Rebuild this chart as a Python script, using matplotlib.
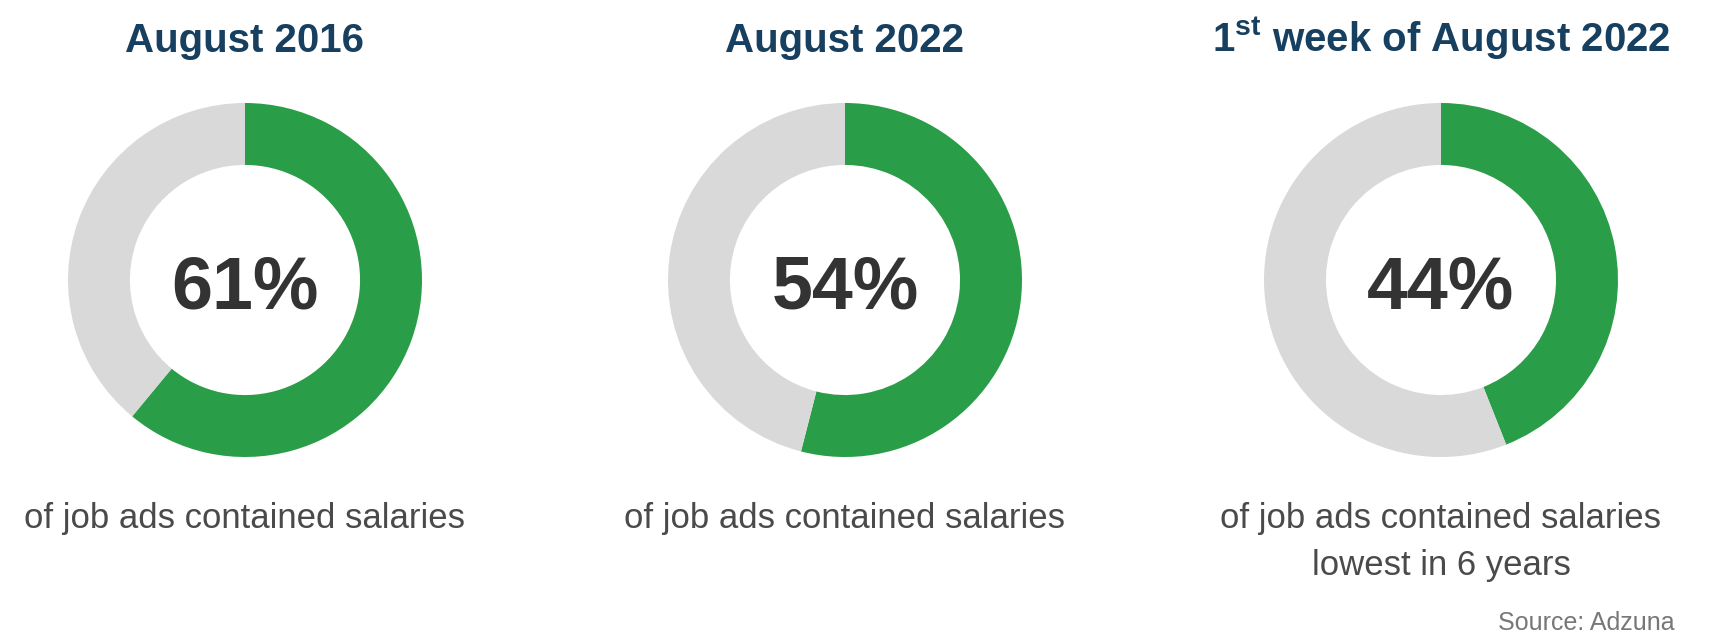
import matplotlib
matplotlib.use('Agg')
from matplotlib import pyplot as plt

# share of job ads that listed a salary
titles = ['August 2016', 'August 2022', r'1$^{\mathregular{st}}$ week of August 2022']
shares = [61, 54, 44]
captions = [['of job ads contained salaries'],
            ['of job ads contained salaries'],
            ['of job ads contained salaries', 'lowest in 6 years']]

green = '#2a9d48'
grey = '#d9d9d9'
navy = '#173f5f'

W, H = 1731, 638
plt.rcParams['font.family'] = ['Liberation Sans', 'DejaVu Sans']
fig = plt.figure(figsize=(W / 100, H / 100), dpi=100)

centers_x = [245, 845, 1441]
cy = 280
r = 177

for cx, title, share, cap in zip(centers_x, titles, shares, captions):
    ax = fig.add_axes([(cx - r) / W, (H - cy - r) / H, 2 * r / W, 2 * r / H])
    ax.pie([share, 100 - share], colors=[green, grey], startangle=90,
           counterclock=False, radius=1,
           wedgeprops=dict(width=0.35, linewidth=0))
    ax.set_xlim(-1, 1)
    ax.set_ylim(-1, 1)
    ax.set_aspect('equal')
    ax.axis('off')
    ax.text(0, -0.16, f'{share}%', ha='center', va='baseline', fontsize=53,
            fontweight='bold', color='#333333')

    fig.text(cx / W, 1 - 52 / H, title, ha='center', va='baseline',
             fontsize=29, fontweight='bold', color=navy)
    for i, line in enumerate(cap):
        fig.text(cx / W, 1 - (528 + 47 * i) / H, line, ha='center',
                 va='baseline', fontsize=25, color='#4a4a4a')

fig.text(1675 / W, 1 - 630 / H, 'Source: Adzuna', ha='right', va='baseline',
         fontsize=18, color='#777777')

fig.savefig('out.png', dpi=100)
